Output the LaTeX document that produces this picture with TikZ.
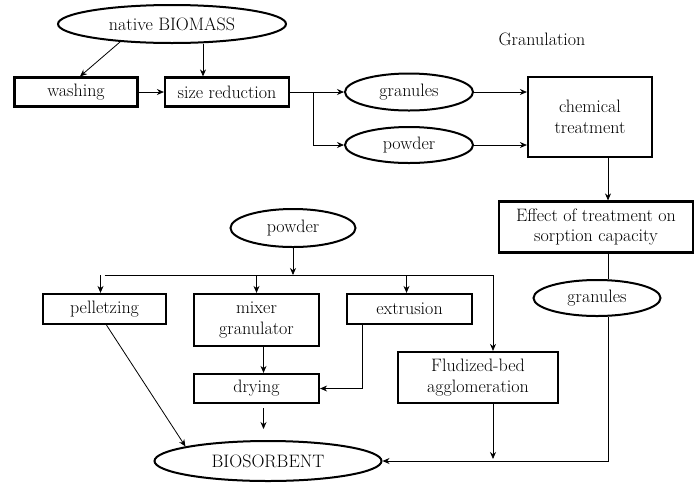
\documentclass[tikz,border=0pt]{standalone}
\usepackage{fontspec}
\usepackage{tikz}
\usetikzlibrary{shapes.geometric,arrows.meta,positioning,calc}

\begin{document}
\begin{tikzpicture}[
    x=1pt, y=-1pt,
    every node/.style={font=\fontsize{18}{20.5}\selectfont},
    proc/.style={rectangle, draw=black, fill=white, line width=2.2pt,
                 inner sep=0pt, align=center},
    blob/.style={ellipse, draw=black, fill=white, line width=2pt,
                 inner sep=0pt, align=center},
    arrow/.style={-{Stealth[length=7pt,width=6pt]}, line width=0.8pt, color=black},
    link/.style={line width=0.8pt, color=black},
]
\useasboundingbox (0,0) rectangle (695,483);

% top row: preparation of the raw material
\node[blob,minimum width=228pt,minimum height=38pt] (bio) at (172,24) {native BIOMASS};
\node[proc,minimum width=123pt,minimum height=29pt] (wash) at (76,92) {washing};
\node[proc,minimum width=124pt,minimum height=29pt] (size) at (227,92) {size reduction};
\node[blob,minimum width=128pt,minimum height=37pt] (gran1) at (409,92) {granules};
\node[blob,minimum width=128pt,minimum height=36pt] (pow1) at (409,145) {powder};
\node (title) at (542,39) {Granulation};
\node[proc,minimum width=124pt,minimum height=80pt] (chem) at (590,117) {chemical\\treatment};
\node[proc,minimum width=194pt,minimum height=51pt] (effect) at (596,227) {Effect of treatment on\\sorption capacity};
\node[blob,minimum width=127pt,minimum height=36pt] (gran2) at (597,298) {granules};

% lower part: granulation routes
\node[blob,minimum width=125pt,minimum height=38pt] (pow2) at (293,228) {powder};
\node[proc,minimum width=123pt,minimum height=30pt] (pell) at (104.5,309) {pelletzing};
\node[proc,minimum width=125pt,minimum height=52pt] (mixer) at (256.5,320) {mixer\\granulator};
\node[proc,minimum width=125pt,minimum height=30pt] (extr) at (409.5,309) {extrusion};
\node[proc,minimum width=160pt,minimum height=51pt] (flud) at (478,377.5) {Fludized-bed\\agglomeration};
\node[proc,minimum width=125pt,minimum height=29pt] (dry) at (256.5,388.5) {drying};
\node[blob,minimum width=227pt,minimum height=40pt] (bios) at (268,461) {BIOSORBENT};

\coordinate (split) at (313,92);
\coordinate (bar) at (293,275);
\coordinate (rail) at (608,0);

\draw[arrow] (bio.199) -- ([xshift=4pt]wash.north);
\draw[arrow] ([xshift=-24pt]size.north |- bio.south) -- ([xshift=-24pt]size.north);
\draw[arrow] (wash) -- (size);
\draw[arrow] (size.east) -- (gran1.west);
\draw[arrow] (split) |- (pow1.west);
\draw[arrow] (gran1.east) -- (gran1.east -| chem.west);
\draw[arrow] (pow1.east) -- (pow1.east -| chem.west);
\draw[arrow] (rail |- chem.south) -- (rail |- effect.north);
\draw[link] (rail |- effect.south) -- (rail |- gran2.north);
\draw[arrow] (rail |- gran2.south) |- (bios.east);

\draw[arrow] (pow2.south) -- (bar);
\draw[link] (bar -| pell) -- ([xshift=15pt]bar -| flud);
\draw[arrow] ([xshift=-4pt]bar -| pell) -- ([xshift=-4pt]pell.north);
\draw[arrow] (bar -| mixer) -- (mixer);
\draw[arrow] ([xshift=-3pt]bar -| extr) -- ([xshift=-3pt]extr.north);
\draw[arrow] ([xshift=15pt]bar -| flud) -- ([xshift=15pt]flud.north);
\draw[arrow] ([xshift=2pt]pell.south) -- (bios.170);
\draw[arrow] ([xshift=7pt]mixer.south) -- ([xshift=7pt]dry.north);
\draw[arrow] ([xshift=-47.5pt]extr.south) |- (dry.east);
\draw[arrow,shorten <=4pt,shorten >=11pt] ([xshift=7pt]dry.south) -- ([xshift=7pt]dry.south |- bios.north);
\draw[arrow] ([xshift=15pt]flud.south) -- ([xshift=15pt,yshift=2pt]flud.south |- bios.east);
\end{tikzpicture}
\end{document}
